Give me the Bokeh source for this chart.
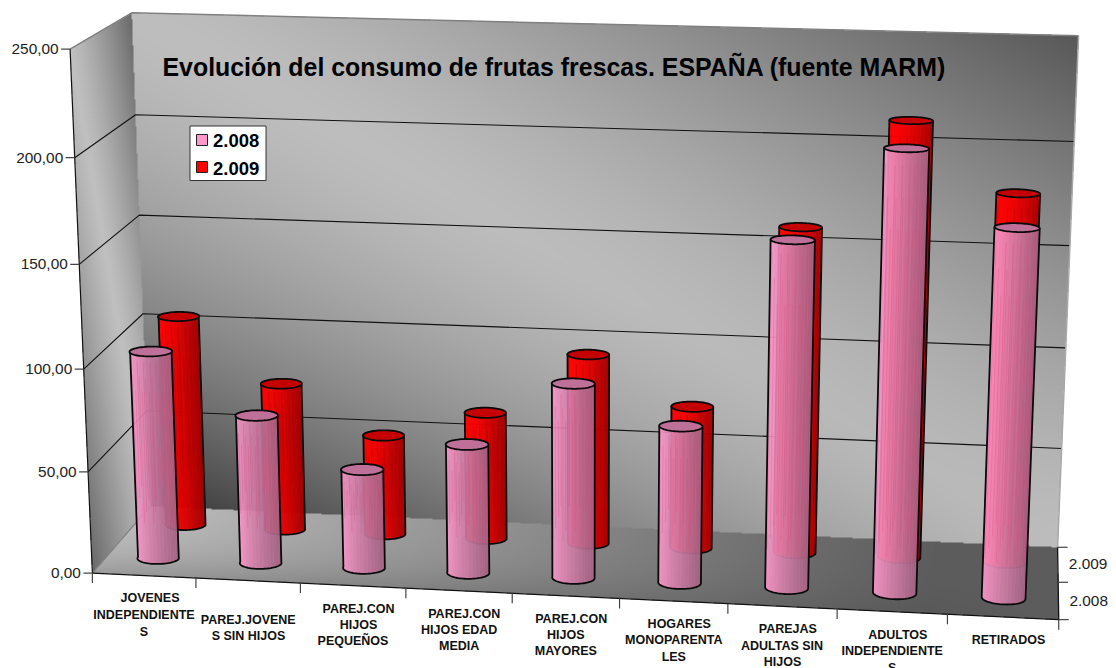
import numpy as np
from bokeh.plotting import figure
from bokeh.models import Range1d
from bokeh.core.properties import value
from bokeh.embed import file_html
from bokeh.resources import INLINE

categories = [
    ["JOVENES", "INDEPENDIENTE", "S"], ["PAREJ.JOVENE", "S SIN HIJOS"],
    ["PAREJ.CON", "HIJOS", "PEQUEÑOS"], ["PAREJ.CON", "HIJOS EDAD", "MEDIA"],
    ["PAREJ.CON", "HIJOS", "MAYORES"], ["HOGARES", "MONOPARENTA", "LES"],
    ["PAREJAS", "ADULTAS SIN", "HIJOS"], ["ADULTOS", "INDEPENDIENTE", "S"], ["RETIRADOS"],
]
values_2008 = [102.5, 73.2, 48.8, 63.3, 94.9, 76.5, 166.6, 210.3, 175.6]
values_2009 = [106.2, 74.3, 50.2, 63.8, 94.9, 71.0, 160.7, 212.9, 180.1]
series_names = ["2.008", "2.009"]
z_ticks = [0, 50, 100, 150, 200, 250]
z_labels = ["0,00", "50,00", "100,00", "150,00", "200,00", "250,00"]

W, H = 1116, 668
OFF = 0

# ---- perspective camera (cat position, depth, value) -> page pixel
calib = [
    (0,0,0,92,572),(0,0,50,87,471),(0,0,100,83,368),(0,0,150,79,263),(0,0,200,74,158),(0,0,250,70,49),
    (0,2,0,150,507),(0,2,50,146,410),(0,2,100,143,313),(0,2,150,138.7,214.7),(0,2,200,134.8,114.5),(0,2,250,131,12),
    (9,2,0,1057,546),(9,2,50,1060.7,448),(9,2,100,1065.7,347),(9,2,150,1069,245),(9,2,200,1073,141.7),(9,2,250,1079,35),
    (1,0,0,195.7,577.7),(2,0,0,300,582.3),(3,0,0,405,588),(4,0,0,512,593.3),(5,0,0,619,598),(6,0,0,727,603),
    (7,0,0,837,609),(8,0,0,947,614),(9,0,0,1058,619),(9,1,0,1058,582),
]
A = []
for x, d, z, u, v in calib:
    z = z / 100
    A.append([x, d, z, 1, 0, 0, 0, 0, -u*x, -u*d, -u*z, -u])
    A.append([0, 0, 0, 0, x, d, z, 1, -v*x, -v*d, -v*z, -v])
P = np.linalg.svd(np.array(A, float))[2][-1].reshape(3, 4)
P = P / P[2, 3]
P[:, 2] = P[:, 2] / 100


def proj(x, d, z):
    x, d, z = np.asarray(x, float), np.asarray(d, float), np.asarray(z, float)
    w = P[2, 0]*x + P[2, 1]*d + P[2, 2]*z + P[2, 3]
    return (P[0, 0]*x + P[0, 1]*d + P[0, 2]*z + P[0, 3]) / w, (P[1, 0]*x + P[1, 1]*d + P[1, 2]*z + P[1, 3]) / w


def dx(px):
    return np.asarray(px, float) - OFF


def dy(py):
    return H + OFF - np.asarray(py, float)


def sx_sy(x, d, z):
    a, b = proj(x, d, z)
    return dx(a), dy(b)


def plane_uv(cols, const_col, const):
    M = P[:, cols]
    M = np.column_stack([M[:, 0], M[:, 1], P[:, const_col] * const + P[:, 3]])
    return np.linalg.inv(M)


yy, xx = np.mgrid[0:H, 0:W]
page_x, page_y = xx + OFF + 0.5, yy + OFF + 0.5
rgba = np.zeros((H, W, 4), dtype=np.uint8)


def paint(cols, const_col, const, ru, rv, shade):
    inv = plane_uv(cols, const_col, const)
    w = inv[2, 0]*page_x + inv[2, 1]*page_y + inv[2, 2]
    u = (inv[0, 0]*page_x + inv[0, 1]*page_y + inv[0, 2]) / w
    v = (inv[1, 0]*page_x + inv[1, 1]*page_y + inv[1, 2]) / w
    m = (u >= 0) & (u <= ru) & (v >= 0) & (v <= rv)
    c = shade(u / ru, v / rv)
    rgba[m, 0] = rgba[m, 1] = rgba[m, 2] = np.clip(c[m], 0, 255)
    rgba[m, 3] = 255


def diag(a, b, light, dark, power=1.4):
    s = (a + b) / 2
    return light - (light - dark) * np.abs(2 * s - 1) ** power


paint([0, 2], 1, 2, 9, 250,
      lambda a, b: diag(a, b, 190, 88) - 30 * np.clip(1 - b, 0, 1) ** 3 * np.clip(1 - a, 0, 1) ** 0.7)  # back wall
paint([1, 2], 0, 0, 2, 250, lambda a, b: diag(a, b, 192, 105, 1.2))                                     # left wall
paint([0, 1], 2, 0, 9, 2,
      lambda a, b: 188 - 95 * np.clip(a * 1.15, 0, 1) - 32 * np.clip(1 - b, 0, 1) ** 3 * np.clip(1 - a, 0, 1))  # floor

p = figure(width=W, height=H, x_range=Range1d(0, W), y_range=Range1d(0, H), output_backend="svg",
           toolbar_location=None, min_border=0, x_axis_location=None, y_axis_location=None)
p.grid.visible = False
p.outline_line_color = None
p.background_fill_color = "white"
p.image_rgba(image=[rgba[::-1].view(np.uint32).reshape(H, W)], x=0, y=0, dw=W, dh=H)

# grid lines
glx, gly = [], []
for z in z_ticks[1:-1]:
    a = sx_sy([0, 0, 9], [0, 2, 2], [z, z, z])
    glx.append(list(a[0]))
    gly.append(list(a[1]))
p.multi_line(glx, gly, line_color="#111111", line_width=1.1)
# wall outline
a = sx_sy([0, 0, 9, 9], [0, 2, 2, 2], [250, 250, 250, 0])
p.line(a[0][:3], a[1][:3], line_color="#808080", line_width=1.5)
p.line(a[0][2:], a[1][2:], line_color="#a8a8a8", line_width=1.5)
a = sx_sy([0, 0], [0, 2], [0, 0])
p.line(a[0], a[1], line_color="#808080", line_width=1.2)

# axes
a = sx_sy([0, 0], [0, 0], [0, 250])
p.line(a[0], a[1], line_color="#111111", line_width=1.2)
a = sx_sy([0, 9, 9], [0, 0, 2], [0, 0, 0])
p.line(a[0], a[1], line_color="#111111", line_width=1.3)
tx, ty = sx_sy(np.zeros(6), np.zeros(6), z_ticks)
p.segment(tx - 9, ty, tx, ty, line_color="#444444", line_width=1.2)
p.text(list(tx - 11.5), list(ty), text=z_labels, text_font=value("Liberation Sans"), text_font_size="15.4px",
       text_align="right", text_baseline="middle", text_color="#222222")
bx, by = sx_sy(np.arange(10), np.zeros(10), np.zeros(10))
p.segment(bx, by, bx, by - 10, line_color="#444444", line_width=1.2)
rx, ry = sx_sy([9, 9, 9], [0, 1, 2], [0, 0, 0])
p.segment(rx, ry, rx + 10, ry, line_color="#444444", line_width=1.2)
p.text(list(rx[:2] + 10.7), [ry[0] + 18.5, ry[1] + 18.5], text=series_names,
       text_font=value("Liberation Sans"), text_font_size="15.4px", text_align="left", text_baseline="middle",
       text_color="#222222")

# cylinders
RX, RD = 0.2, 0.17
T = np.linspace(np.pi, 2 * np.pi, 37)
TC = np.linspace(0, 2 * np.pi, 73)
STREAKS = (0.05, 0.12, 0.2, 0.27, 0.31, 0.38, 0.43, 0.47, 0.55, 0.59, 0.62, 0.7, 0.74, 0.78, 0.83, 0.86, 0.93, 0.97)


def cylinders(vals, depth, base, cap, streak, top_shade, power, s_alpha, body_alpha):
    for i, val in enumerate(vals):
        cx = i + 0.5
        xa = cx + RX * np.cos(T)
        da = depth + RD * np.sin(T)
        bxx, byy = sx_sy(xa, da, np.zeros_like(xa))
        txx, tyy = sx_sy(xa, da, np.full_like(xa, val))
        p.patch(np.r_[bxx, txx[::-1]], np.r_[byy, tyy[::-1]], fill_color=base, fill_alpha=body_alpha, line_color=None)
        xs, ys, al = [], [], []
        for k in range(18):
            a0, a1 = k * 2, k * 2 + 2
            xs.append([bxx[a0], bxx[a1], txx[a1], txx[a0]])
            ys.append([byy[a0], byy[a1], tyy[a1], tyy[a0]])
            u = (np.cos(T[a0 + 1]) + 1) / 2
            al.append(float(top_shade * u ** power))
        p.patches(xs, ys, fill_color="black", fill_alpha=al, line_color=None)
        sx, sy = [], []
        for j, u in enumerate(STREAKS):
            xq = cx + RX * (2 * u - 1)
            dq = depth - RD * np.sqrt(max(0, 1 - (2 * u - 1) ** 2))
            z0 = val * (0.97 - 0.07 * (j % 3))
            z1 = min(z0, 20 + 6 * (j % 4))
            q = sx_sy([xq, xq], [dq, dq], [z0, z1])
            sx.append(list(q[0]))
            sy.append(list(q[1]))
        p.multi_line(sx, sy, line_color=streak, line_alpha=s_alpha, line_width=0.9)
        p.line(np.r_[txx[0], bxx, txx[-1]], np.r_[tyy[0], byy, tyy[-1]], line_color="#0a0a0a", line_width=1.8)
        cx_, cy_ = sx_sy(cx + RX * np.cos(TC), depth + RD * np.sin(TC), np.full_like(TC, val))
        p.patch(cx_, cy_, fill_color=cap, line_color="#0a0a0a", line_width=1.8)


cylinders(values_2009, 1.5, "#ff0000", "#c40000", "#8a0000", 0.36, 2.0, 0.25, 0.96)
cylinders(values_2008, 0.5, "#ff99cc", "#bf7099", "#d84a78", 0.34, 1.0, 0.3, 0.9)

# category labels (page pixel centres of each line)
label_pos = [
    [(149.5, 597.7), (143.5, 614.7), (143.5, 631)], [(247.7, 619.7), (248, 635.7)],
    [(358, 608.7), (358, 624.7), (352.5, 640.7)], [(463.7, 613.3), (458.7, 629.7), (458.7, 645.7)],
    [(570.7, 618.7), (565.3, 634.7), (565.3, 650.7)], [(678.7, 623.3), (673.3, 639.3), (673.3, 656)],
    [(787.3, 628.7), (781.5, 645.7), (782, 661.7)], [(897.3, 634.7), (891.7, 650.7), (891.7, 667)],
    [(1008, 639.7)],
]
lx, ly, lt = [], [], []
for lines, pos in zip(categories, label_pos):
    for s, (a, b) in zip(lines, pos):
        lx.append(float(dx(a)))
        ly.append(float(dy(b)))
        lt.append(s)
p.text(lx, ly, text=lt, text_font=value("Liberation Sans"), text_font_style="bold", text_font_size="12.5px",
       text_align="center", text_baseline="middle", text_color="#111111")

# title
p.text([float(dx(162))], [float(dy(66.2))], text=["Evolución del consumo de frutas frescas. ESPAÑA (fuente MARM)"],
       text_font=value("Liberation Sans"), text_font_style="bold", text_font_size="24.9px",
       text_align="left", text_baseline="middle", text_color="#000000")

# legend
p.quad(left=[float(dx(189.5))], right=[float(dx(265.5))], top=[float(dy(125.5))], bottom=[float(dy(180))],
       fill_color="white", line_color="#333333", line_width=1)
p.quad(left=[float(dx(196))] * 2, right=[float(dx(207))] * 2, top=[float(dy(134)), float(dy(161))],
       bottom=[float(dy(145)), float(dy(172))], fill_color=["#ff99cc", "#ff0000"], line_color="#222222", line_width=1)
p.text([float(dx(212.5))] * 2, [float(dy(140)), float(dy(167.5))], text=series_names,
       text_font=value("Liberation Sans"), text_font_style="bold", text_font_size="18.5px",
       text_align="left", text_baseline="middle", text_color="#000000")

open("out.html", "w").write(file_html(p, INLINE))
